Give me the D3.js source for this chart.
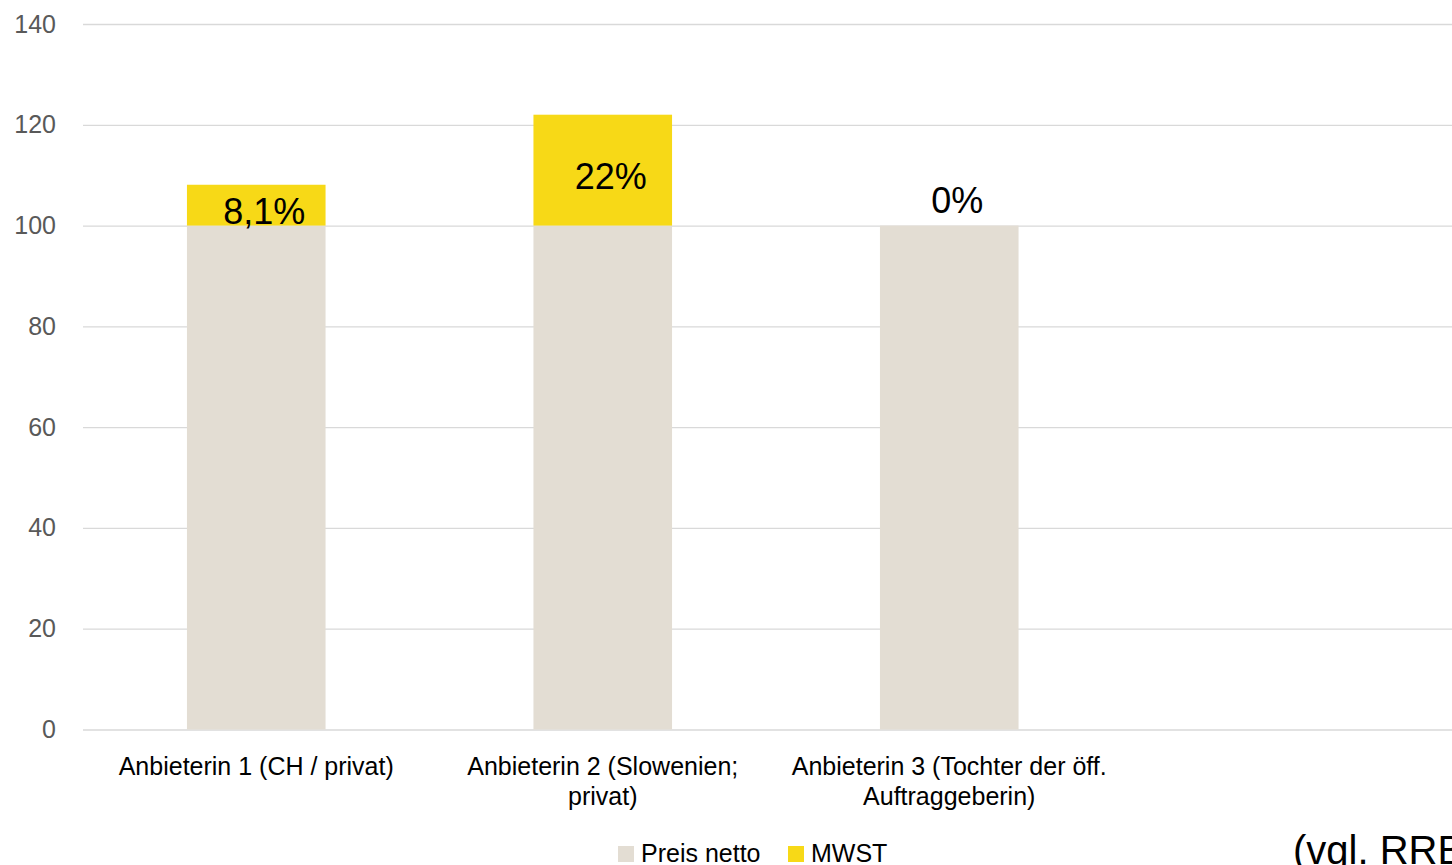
<!DOCTYPE html>
<html>
<head>
<meta charset="utf-8">
<script src="https://cdn.jsdelivr.net/npm/d3@7"></script>
<style>
  html, body { margin: 0; padding: 0; background: #fff; overflow: hidden; }
  svg { display: block; font-family: "Liberation Sans", Arial, sans-serif; }
</style>
</head>
<body>
<svg id="chart" width="1452" height="865"></svg>
<script>
const categories = [
  ["Anbieterin 1 (CH / privat)"],
  ["Anbieterin 2 (Slowenien;", "privat)"],
  ["Anbieterin 3 (Tochter der öff.", "Auftraggeberin)"],
  [""]
];
const netto = [100, 100, 100, null];
const mwst = [8.1, 22, 0, null];
const mwstLabels = ["8,1%", "22%", "0%", ""];
const yTicks = [0, 20, 40, 60, 80, 100, 120, 140];
const seriesNames = ["Preis netto", "MWST"];
const colors = ["#E3DDD3", "#F7D917"];

const svg = d3.select("#chart");
const margin = { left: 83, top: 24 };
const plotRight = 1469;

const x = d3.scaleBand()
  .domain(d3.range(categories.length))
  .range([margin.left, plotRight])
  .paddingInner(0.6)
  .paddingOuter(0.3);

const y = d3.scaleLinear()
  .domain([0, 140])
  .range([729.5, margin.top]);

// gridlines + tick labels via axis
const yAxis = d3.axisLeft(y)
  .tickValues(yTicks)
  .tickSize(-(plotRight - margin.left))
  .tickPadding(27);

const gy = svg.append("g")
  .attr("transform", `translate(${margin.left},0)`)
  .call(yAxis);
gy.select(".domain").remove();
gy.selectAll(".tick line").attr("stroke", "#D9D9D9").attr("stroke-width", 1.3);
gy.selectAll(".tick text")
  .attr("fill", "#595959")
  .style("font-size", "25px")
  .style("font-family", "'Liberation Sans', Arial, sans-serif");

// bars
const idx = d3.range(categories.length).filter(i => netto[i] != null);
const bw = x.bandwidth();

svg.append("g").selectAll("rect")
  .data(idx).join("rect")
  .attr("x", i => x(i))
  .attr("width", bw)
  .attr("y", i => y(netto[i]))
  .attr("height", i => y(0) - y(netto[i]))
  .attr("fill", colors[0]);

svg.append("g").selectAll("rect")
  .data(idx.filter(i => mwst[i] > 0)).join("rect")
  .attr("x", i => x(i))
  .attr("width", bw)
  .attr("y", i => y(netto[i] + mwst[i]))
  .attr("height", i => y(netto[i]) - y(netto[i] + mwst[i]))
  .attr("fill", colors[1]);

// data labels
svg.append("g").selectAll("text")
  .data(idx).join("text")
  .attr("x", i => x(i) + bw / 2 + 8)
  .attr("y", i => mwst[i] > 0 ? y(netto[i] + mwst[i] / 2) + 19 : y(netto[i]) - 13)
  .attr("text-anchor", "middle")
  .style("font-size", "36px")
  .attr("fill", "#000")
  .text(i => mwstLabels[i]);

// category labels
const cat = svg.append("g").selectAll("text")
  .data(d3.range(categories.length)).join("text")
  .attr("x", i => x(i) + bw / 2)
  .attr("y", 775)
  .attr("text-anchor", "middle")
  .style("font-size", "25px")
  .attr("fill", "#000");
cat.selectAll("tspan")
  .data(i => categories[i].map((t, k) => ({ t, k, i })))
  .join("tspan")
  .attr("x", d => x(d.i) + bw / 2)
  .attr("dy", d => d.k === 0 ? 0 : 30)
  .text(d => d.t);

// legend
const legend = svg.append("g");
const legendItems = [
  { name: seriesNames[0], color: colors[0], x: 618 },
  { name: seriesNames[1], color: colors[1], x: 788 }
];
legendItems.forEach(d => {
  legend.append("rect").attr("x", d.x).attr("y", 846).attr("width", 16).attr("height", 16).attr("fill", d.color);
  legend.append("text").attr("x", d.x + 23).attr("y", 862).style("font-size", "25px").attr("fill", "#000").text(d.name);
});

// note at bottom right (cut off at the edge, as in the original)
svg.append("text")
  .attr("x", 1293).attr("y", 864)
  .style("font-size", "40px")
  .attr("fill", "#000")
  .text("(vgl. RRB");
</script>
</body>
</html>
